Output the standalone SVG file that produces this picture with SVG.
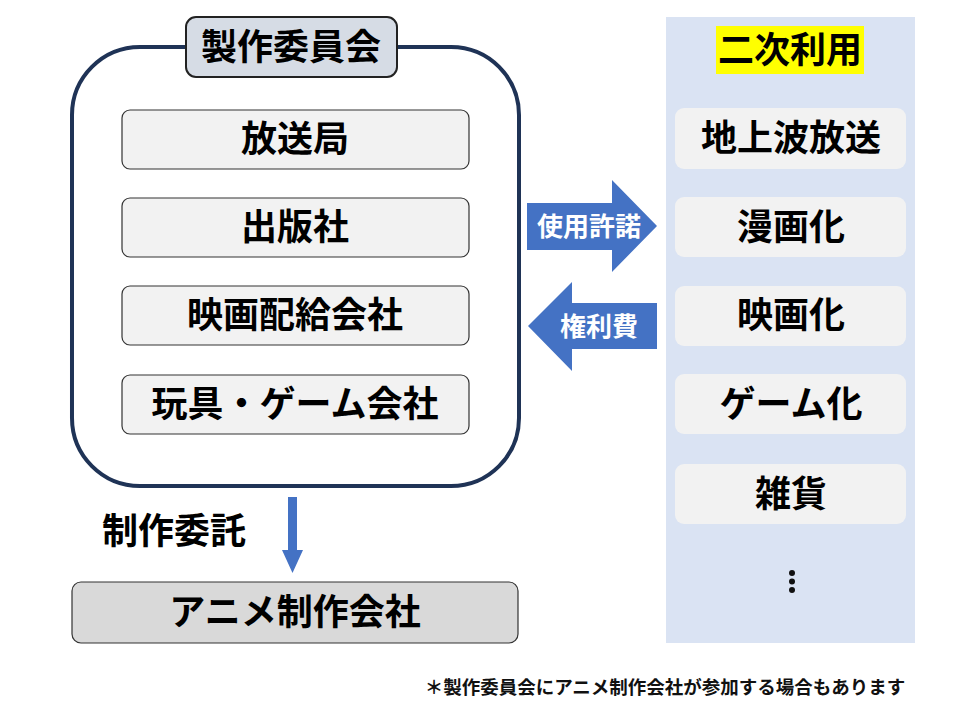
<svg xmlns="http://www.w3.org/2000/svg" width="960" height="720" viewBox="0 0 960 720">
<style>
text{font-family:"Noto Sans CJK JP","Noto Sans CJK SC",sans-serif;font-weight:bold;text-anchor:middle;dominant-baseline:central}
.big{font-size:36px;fill:#000}
.arr{font-size:26px;fill:#fff}
.member{fill:#f2f2f2;stroke:#333;stroke-width:1.2}
.use{fill:#f2f2f2}
.blue{fill:#4472c4}
</style>
<rect width="960" height="720" fill="#fff"/>
<g id="committee">
<rect x="72" y="47" width="447" height="439" rx="68" fill="#fff" stroke="#1f3356" stroke-width="4"/>
<rect x="186" y="17" width="211" height="60" rx="10" fill="#d6dce5" stroke="#222" stroke-width="2"/>
<text class="big" x="291" y="44">製作委員会</text>
</g>
<g id="m1"><rect class="member" x="122" y="110" width="347" height="59" rx="8"/><text class="big" x="295" y="136">放送局</text></g>
<g id="m2"><rect class="member" x="122" y="198" width="347" height="59" rx="8"/><text class="big" x="295" y="224">出版社</text></g>
<g id="m3"><rect class="member" x="122" y="286" width="347" height="59" rx="8"/><text class="big" x="295" y="312">映画配給会社</text></g>
<g id="m4"><rect class="member" x="122" y="375" width="347" height="59" rx="8"/><text class="big" x="295" y="401">玩具・ゲーム会社</text></g>
<g id="secondary">
<rect x="666" y="17" width="249" height="626" fill="#dae3f3"/>
<rect x="716" y="26" width="148" height="48" fill="#ffff00"/>
<text class="big" x="790" y="47">二次利用</text>
</g>
<g id="u1"><rect class="use" x="675" y="108" width="231" height="61" rx="9"/><text class="big" x="791" y="135">地上波放送</text></g>
<g id="u2"><rect class="use" x="675" y="197" width="231" height="60" rx="9"/><text class="big" x="791" y="224">漫画化</text></g>
<g id="u3"><rect class="use" x="675" y="286" width="231" height="60" rx="9"/><text class="big" x="791" y="312">映画化</text></g>
<g id="u4"><rect class="use" x="675" y="374" width="231" height="60" rx="9"/><text class="big" x="791" y="401">ゲーム化</text></g>
<g id="u5"><rect class="use" x="675" y="464" width="231" height="60" rx="9"/><text class="big" x="791" y="491">雑貨</text></g>
<g id="more" fill="#111"><circle cx="792" cy="573" r="3"/><circle cx="792" cy="581.5" r="3"/><circle cx="792" cy="590" r="3"/></g>
<g id="connectors">
<path class="blue" d="M527 203 H612 V180 L657 226 L612 272 V250 H527 Z"/>
<text class="arr" x="589" y="224">使用許諾</text>
<path class="blue" d="M657 303 H572 V282 L528 326 L572 371 V349 H657 Z"/>
<text class="arr" x="599" y="324">権利費</text>
<path class="blue" d="M288 497 H297 V550 H303 L292.5 573 L282 550 H288 Z"/>
<text class="big" x="174" y="528">制作委託</text>
</g>
<g id="studio"><rect x="72" y="582" width="446" height="61" rx="9" fill="#d9d9d9" stroke="#333" stroke-width="1.2"/><text class="big" x="295" y="609">アニメ制作会社</text></g>
<text x="665" y="686" style="font-size:18.5px;fill:#111">＊製作委員会にアニメ制作会社が参加する場合もあります</text>
</svg>
